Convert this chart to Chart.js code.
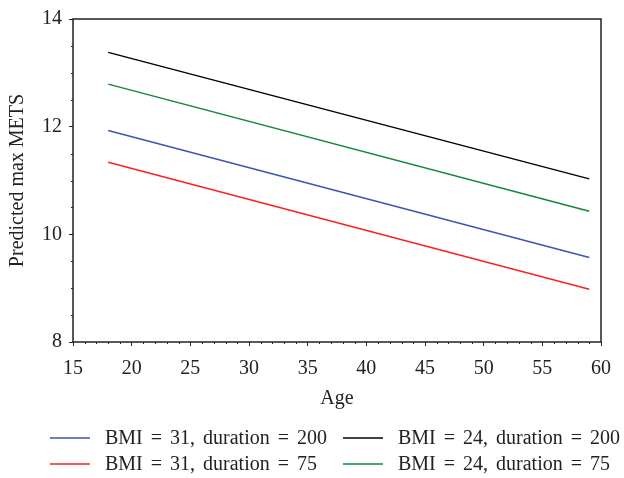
<!DOCTYPE html>
<html>
<head>
<meta charset="utf-8">
<script src="https://cdn.jsdelivr.net/npm/chart.js@4/dist/chart.umd.min.js"></script>
<style>
    body { margin: 0; background: #fff; }
    #caja { width: 624px; height: 478px; }
</style>
</head>
<body>
<div id="caja"><canvas id="grafico"></canvas></div>
<script>
// valores
let edades = [18, 59]
let bmi31_dur200 = [11.93, 9.57]
let bmi31_dur75 = [11.34, 8.98]
let bmi24_dur200 = [13.38, 11.03]
let bmi24_dur75 = [12.79, 10.43]

let etiquetas = [
    'BMI = 31, duration = 200',
    'BMI = 31, duration = 75',
    'BMI = 24, duration = 200',
    'BMI = 24, duration = 75'
]
let colores = ['#3b55b4', '#ff1f1f', '#000000', '#12873a']

let fuente = 'Liberation Serif'

function puntos(valores){
    return valores.map((v, i) => ({ x: edades[i], y: v }))
}

// marco + ticks menores
const marco = {
    id: 'marco',
    afterDraw(chart){
        const ctx = chart.ctx
        const a = chart.chartArea
        const xs = chart.scales.x
        const ys = chart.scales.y
        ctx.save()
        ctx.strokeStyle = '#222'
        ctx.lineWidth = 1.5
        ctx.strokeRect(a.left, a.top, a.right - a.left, a.bottom - a.top)
        ctx.lineWidth = 1
        ctx.beginPath()
        for (let v = 16; v < 60; v++) {
            if (v % 5 == 0) continue
            let px = Math.round(xs.getPixelForValue(v)) + 0.5
            ctx.moveTo(px, a.bottom)
            ctx.lineTo(px, a.bottom + 2)
        }
        for (let v = 8.5; v < 14; v += 0.5) {
            if (v % 2 == 0) continue
            let py = Math.round(ys.getPixelForValue(v)) + 0.5
            ctx.moveTo(a.left, py)
            ctx.lineTo(a.left - 2, py)
        }
        ctx.stroke()
        ctx.restore()
    }
}

// leyenda en dos columnas
const leyenda = {
    id: 'leyenda',
    afterDraw(chart){
        const ctx = chart.ctx
        const orden = [[0, 50, 438], [2, 343, 438], [1, 50, 464], [3, 343, 464]]
        ctx.save()
        ctx.font = '20px "' + fuente + '"'
        ctx.wordSpacing = '3px'
        ctx.textBaseline = 'middle'
        ctx.fillStyle = '#222'
        orden.forEach(item => {
            let ds = chart.data.datasets[item[0]]
            ctx.strokeStyle = ds.borderColor
            ctx.lineWidth = 1.5
            ctx.beginPath()
            ctx.moveTo(item[1], item[2])
            ctx.lineTo(item[1] + 40, item[2])
            ctx.stroke()
            ctx.fillText(ds.label, item[1] + 55, item[2] + 1)
        })
        ctx.restore()
    }
}

let series = [bmi31_dur200, bmi31_dur75, bmi24_dur200, bmi24_dur75]

var configuracion = {
    type: 'line',
    data: {
        datasets: series.map((s, i) => ({
            label: etiquetas[i],
            data: puntos(s),
            borderColor: colores[i],
            backgroundColor: colores[i],
            borderWidth: 1.5,
            pointRadius: 0,
            fill: false
        }))
    },
    options: {
        responsive: true,
        maintainAspectRatio: false,
        animation: false,
        layout: { padding: { left: 0, top: 13, right: 23, bottom: 63 } },
        plugins: {
            legend: { display: false },
            tooltip: { enabled: false }
        },
        scales: {
            x: {
                type: 'linear',
                min: 15,
                max: 60,
                afterFit: s => { s.height = 73 },
                ticks: { stepSize: 5, color: '#222', padding: 11, font: { family: fuente, size: 20 } },
                grid: { drawOnChartArea: false, tickLength: 4, tickColor: '#222' },
                border: { display: false },
                title: { display: true, text: 'Age', color: '#222', font: { family: fuente, size: 20 }, padding: { top: 4 } }
            },
            y: {
                min: 8,
                max: 14,
                afterFit: s => { s.width = 73 },
                ticks: { stepSize: 2, color: '#222', padding: 7, font: { family: fuente, size: 20 } },
                grid: { drawOnChartArea: false, tickLength: 4, tickColor: '#222' },
                border: { display: false },
                title: { display: true, text: 'Predicted max METS', color: '#222', font: { family: fuente, size: 20 }, padding: { top: 6 } }
            }
        }
    },
    plugins: [marco, leyenda]
}

var ctx = document.getElementById('grafico').getContext('2d')
var grafico = new Chart(ctx, configuracion)
</script>
</body>
</html>
